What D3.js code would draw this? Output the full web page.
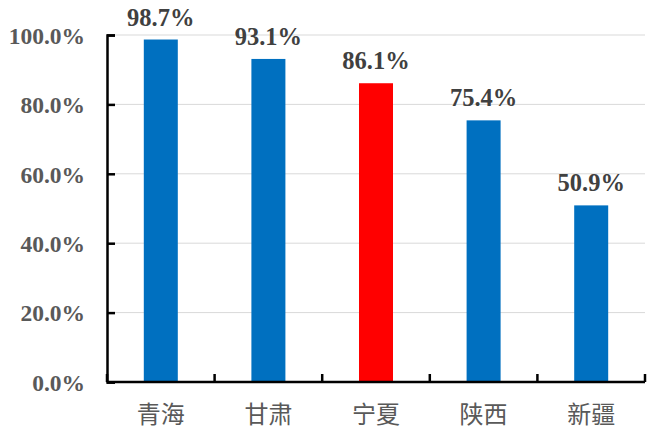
<!DOCTYPE html>
<html><head><meta charset="utf-8">
<script src="https://cdn.jsdelivr.net/npm/d3@7"></script>
<style>body{margin:0;background:#fff;}svg{display:block;}</style>
</head><body>
<script>
const categories = ["青海", "甘肃", "宁夏", "陕西", "新疆"];
const values = [98.7, 93.1, 86.1, 75.4, 50.9];
const highlight = ["宁夏"];
const yTicks = [0, 20, 40, 60, 80, 100];

const W = 651, H = 446;
const m = {left: 107, right: 6, top: 35, bottom: 64};
const serif = '"Liberation Serif", "Times New Roman", serif';
const svg = d3.select("body").append("svg").attr("width", W).attr("height", H);

const x = d3.scaleBand().domain(categories).range([m.left, W - m.right]).paddingInner(0.684).paddingOuter(0.342);
const xb = d3.scaleBand().domain(categories).range([m.left, W - m.right]);
const y = d3.scaleLinear().domain([0, 100]).range([H - m.bottom, m.top]);

// gridlines
svg.append("g").selectAll("line").data(yTicks.filter(d => d > 0)).join("line")
  .attr("x1", m.left).attr("x2", W - m.right)
  .attr("y1", d => y(d)).attr("y2", d => y(d))
  .attr("stroke", "#d9d9d9").attr("stroke-width", 1);

// bars
svg.append("g").selectAll("rect").data(categories).join("rect")
  .attr("x", d => x(d)).attr("width", x.bandwidth())
  .attr("y", (d, i) => y(values[i])).attr("height", (d, i) => y(0) - y(values[i]))
  .attr("fill", d => highlight.includes(d) ? "#ff0000" : "#0070c0");

// value labels
svg.append("g").selectAll("text").data(categories).join("text")
  .attr("x", d => x(d) + x.bandwidth() / 2)
  .attr("y", (d, i) => y(values[i]) - 14)
  .attr("text-anchor", "middle")
  .style("font-family", serif)
  .style("font-weight", "bold").style("font-size", "24.5px").attr("fill", "#404040")
  .text((d, i) => values[i].toFixed(1) + "%");

// y axis
const yAxis = d3.axisLeft(y).tickValues(yTicks).tickSize(-8).tickPadding(22)
  .tickFormat(d => d.toFixed(1) + "%");
const gy = svg.append("g").attr("transform", `translate(${m.left},0)`).call(yAxis);
gy.select(".domain").attr("stroke", "#000").attr("stroke-width", 2.5);
gy.selectAll(".tick line").attr("stroke", "#000").attr("stroke-width", 2.5);
gy.selectAll(".tick text").style("font-family", serif)
  .style("font-weight", "bold").style("font-size", "23.5px").attr("fill", "#595959").attr("dy", "0.35em");

// x axis
const gx = svg.append("g").attr("transform", `translate(0,${y(0)})`);
gx.append("line").attr("x1", m.left).attr("x2", W - m.right).attr("y1", 0).attr("y2", 0)
  .attr("stroke", "#000").attr("stroke-width", 2.5);
const bounds = categories.map(c => xb(c)).concat([W - m.right]);
gx.selectAll("line.t").data(bounds).join("line").attr("class", "t")
  .attr("x1", d => d).attr("x2", d => d).attr("y1", 0).attr("y2", -8)
  .attr("stroke", "#000").attr("stroke-width", 2.5);
gx.selectAll("text").data(categories).join("text")
  .attr("x", d => xb(d) + xb.bandwidth() / 2).attr("y", 41)
  .attr("text-anchor", "middle")
  .style("font-family", '"Noto Sans CJK SC", sans-serif')
  .style("font-size", "24px").attr("fill", "#595959")
  .text(d => d);
</script>
</body></html>
